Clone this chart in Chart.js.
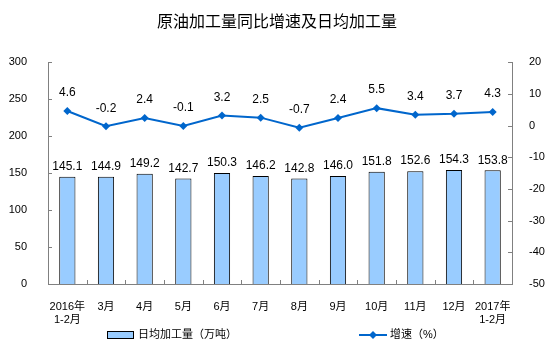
<!DOCTYPE html>
<html>
<head>
<meta charset="utf-8">
<script src="https://cdn.jsdelivr.net/npm/chart.js@4.4.0/dist/chart.umd.min.js"></script>
<style>
  html, body { margin: 0; padding: 0; background: #fff; }
  #wrap { width: 554px; height: 353px; }
</style>
</head>
<body>
<div id="wrap"><canvas id="chart"></canvas></div>
<script>
// 数据
const categories = [['2016年', '1-2月'], '3月', '4月', '5月', '6月', '7月', '8月', '9月', '10月', '11月', '12月', ['2017年', '1-2月']];
const dailyOutput = [145.1, 144.9, 149.2, 142.7, 150.3, 146.2, 142.8, 146.0, 151.8, 152.6, 154.3, 153.8];
const growthRate = [4.6, -0.2, 2.4, -0.1, 3.2, 2.5, -0.7, 2.4, 5.5, 3.4, 3.7, 4.3];
const leftTicks = [0, 50, 100, 150, 200, 250, 300];
const rightTicks = [-50, -40, -30, -20, -10, 0, 10, 20];

const FONT = '"Liberation Sans", Arial, "Noto Sans CJK SC", sans-serif';
const BAR_COLOR = '#99CCFF';
const LINE_COLOR = '#0066CC';
const AXIS_COLOR = '#808080';

// 数据标签 + 内侧刻度 + 图例（手动绘制）
const extrasPlugin = {
    id: 'extras',
    afterDatasetsDraw(chart) {
        const ctx = chart.ctx;
        const area = chart.chartArea;
        ctx.save();
        ctx.fillStyle = '#000';
        ctx.font = '12px ' + FONT;
        ctx.textAlign = 'center';
        ctx.textBaseline = 'middle';

        // datasets[0] = 柱, datasets[1] = 折线
        chart.getDatasetMeta(0).data.forEach((bar, i) => {
            ctx.fillText(dailyOutput[i].toFixed(1), bar.x, bar.y - 10);
        });
        chart.getDatasetMeta(1).data.forEach((pt, i) => {
            ctx.fillText(growthRate[i].toFixed(1), pt.x, pt.y - 18);
        });

        // 刻度线（朝内）
        ctx.strokeStyle = AXIS_COLOR;
        ctx.lineWidth = 1;
        ctx.beginPath();
        const y = chart.scales.y, y1 = chart.scales.y1;
        leftTicks.forEach(v => {
            const py = Math.round(y.getPixelForValue(v)) + 0.5;
            ctx.moveTo(area.left, py); ctx.lineTo(area.left + 4, py);
        });
        rightTicks.forEach(v => {
            const py = Math.round(y1.getPixelForValue(v)) + 0.5;
            ctx.moveTo(area.right, py); ctx.lineTo(area.right - 4, py);
        });
        const step = (area.right - area.left) / categories.length;
        for (let i = 1; i < categories.length; i++) {
            const px = Math.round(area.left + step * i) + 0.5;
            ctx.moveTo(px, area.bottom); ctx.lineTo(px, area.bottom - 4);
        }
        ctx.stroke();

        // 图例
        const ly = 335;
        ctx.font = '11px ' + FONT;
        ctx.textAlign = 'left';
        ctx.fillStyle = BAR_COLOR;
        ctx.fillRect(107, ly - 3.5, 26, 7);
        ctx.strokeStyle = '#000';
        ctx.strokeRect(107.5, ly - 3.5, 26, 7);
        ctx.fillStyle = '#000';
        ctx.fillText(chart.data.datasets[0].label, 138, ly);

        ctx.strokeStyle = LINE_COLOR;
        ctx.lineWidth = 2;
        ctx.beginPath();
        ctx.moveTo(359, ly); ctx.lineTo(387, ly);
        ctx.stroke();
        ctx.fillStyle = LINE_COLOR;
        ctx.beginPath();
        ctx.moveTo(373, ly - 4); ctx.lineTo(377, ly); ctx.lineTo(373, ly + 4); ctx.lineTo(369, ly);
        ctx.closePath();
        ctx.fill();
        ctx.fillStyle = '#000';
        ctx.fillText(chart.data.datasets[1].label, 390, ly);
        ctx.restore();
    }
};

new Chart(document.getElementById('chart'), {
    data: {
        labels: categories,
        datasets: [
            {
                type: 'bar',
                label: '日均加工量（万吨）',
                data: dailyOutput,
                yAxisID: 'y',
                backgroundColor: BAR_COLOR,
                borderColor: '#000',
                borderWidth: 1,
                barPercentage: 0.42,
                categoryPercentage: 1,
                order: 1
            },
            {
                type: 'line',
                label: '增速（%）',
                data: growthRate,
                yAxisID: 'y1',
                borderColor: LINE_COLOR,
                backgroundColor: LINE_COLOR,
                borderWidth: 2,
                pointStyle: 'rectRot',
                pointRadius: 4,
                pointBorderWidth: 0,
                tension: 0,
                order: 0
            }
        ]
    },
    options: {
        responsive: true,
        maintainAspectRatio: false,
        animation: false,
        layout: { padding: { left: 0, right: 0, top: 0, bottom: 29 } },
        plugins: {
            legend: { display: false },
            tooltip: { enabled: false },
            title: {
                display: true,
                text: '原油加工量同比增速及日均加工量',
                color: '#000',
                font: { family: FONT, size: 16, weight: 'normal' },
                padding: { top: 13, bottom: 30 }
            }
        },
        scales: {
            x: {
                grid: { display: false },
                border: { display: true, color: AXIS_COLOR },
                ticks: {
                    color: '#000',
                    font: { family: FONT, size: 11 },
                    padding: 8,
                    maxRotation: 0,
                    autoSkip: false
                },
                afterFit(scale) { scale.height = 40; }
            },
            y: {
                position: 'left',
                min: 0, max: 300,
                grid: { display: false },
                border: { display: true, color: AXIS_COLOR },
                ticks: {
                    stepSize: 50,
                    color: '#000',
                    font: { family: FONT, size: 11 },
                    padding: 13
                },
                afterFit(scale) { scale.width = 48; }
            },
            y1: {
                position: 'right',
                min: -50, max: 20,
                grid: { display: false },
                border: { display: true, color: AXIS_COLOR },
                ticks: {
                    stepSize: 10,
                    color: '#000',
                    font: { family: FONT, size: 11 },
                    padding: 9
                },
                afterFit(scale) { scale.width = 42; }
            }
        }
    },
    plugins: [extrasPlugin]
});
</script>
</body>
</html>
